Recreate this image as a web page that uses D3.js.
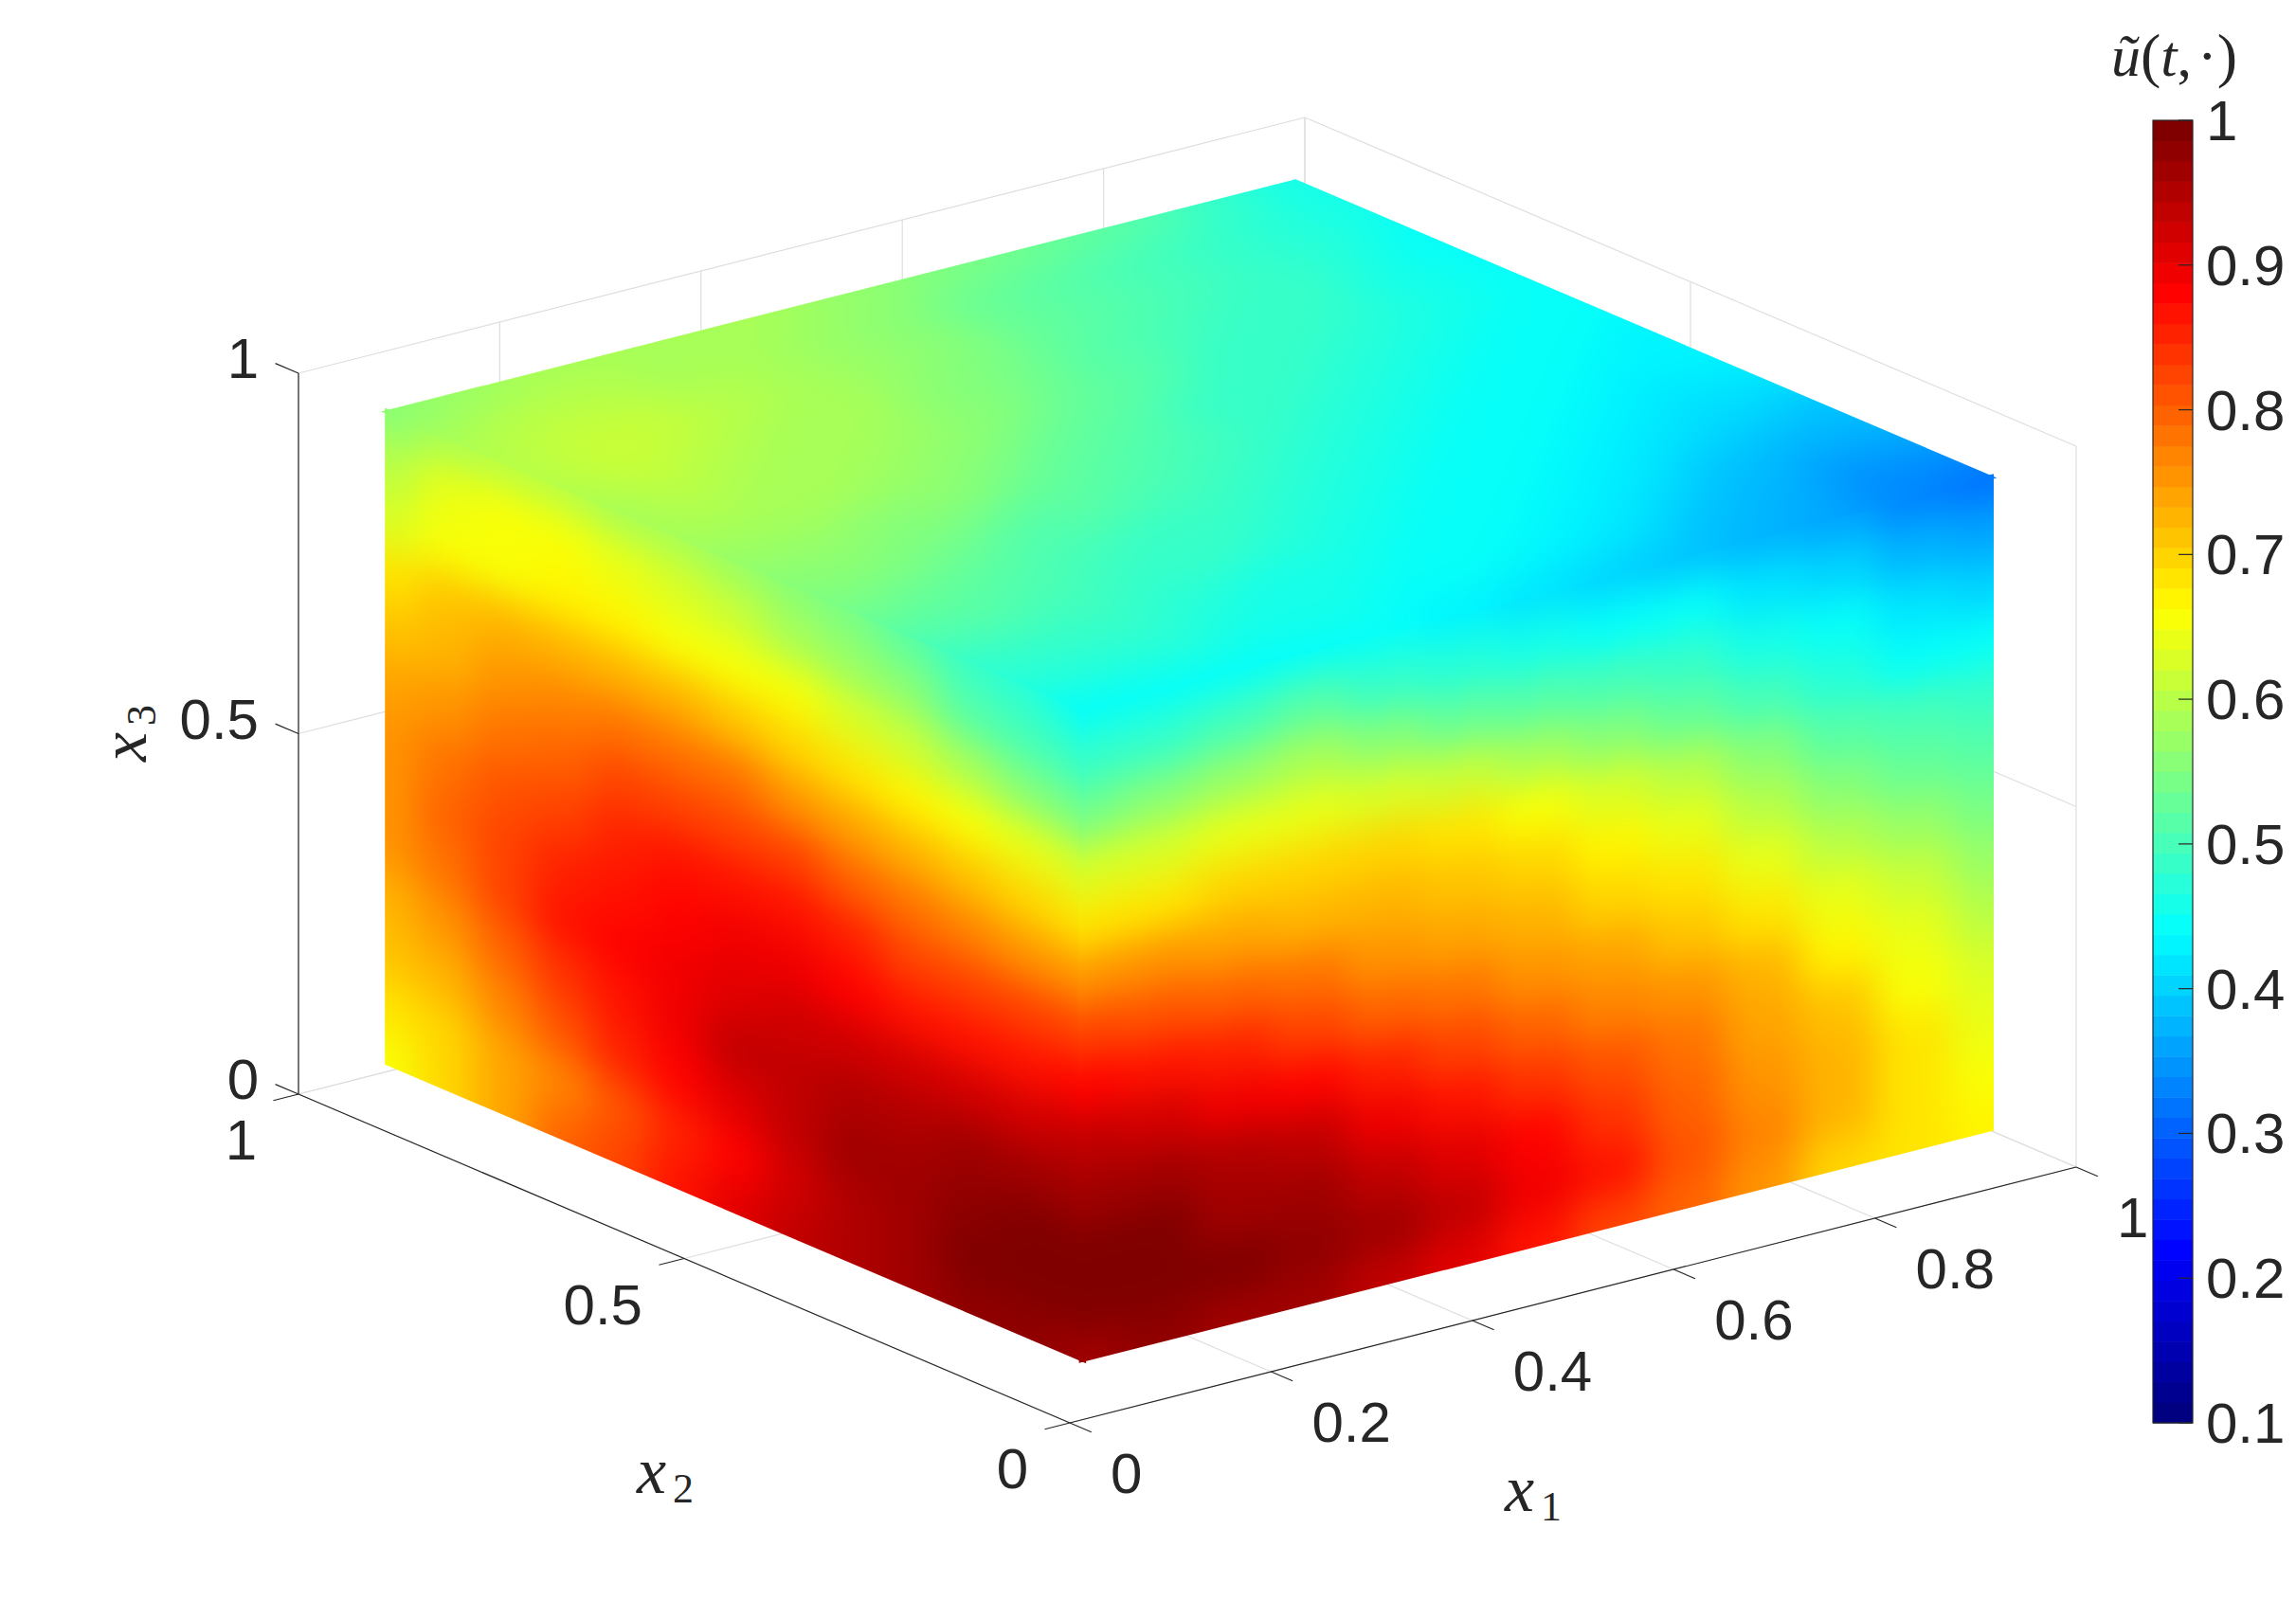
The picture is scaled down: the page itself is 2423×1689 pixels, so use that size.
<!DOCTYPE html>
<html>
<head>
<meta charset="utf-8">
<title>u(t,x)</title>
<script src="https://cdn.jsdelivr.net/npm/d3@7"></script>
<style>
body { margin: 0; background: #fff; }
text { fill: #262626; }
.tick { font-family: "Liberation Sans", Arial, sans-serif; font-size: 60px; }
.math { font-family: "Liberation Serif", serif; }
</style>
</head>
<body>
<div id="panel"></div>
<script>
// ticks
var x1Ticks = [0, 0.2, 0.4, 0.6, 0.8, 1];
var x2Ticks = [0, 0.5, 1];
var x3Ticks = [0, 0.5, 1];
var barTicks = [0.1, 0.2, 0.3, 0.4, 0.5, 0.6, 0.7, 0.8, 0.9, 1];

// values read by eye from the colours of the picture, on a 13 x 13 grid per face
// left face: x1 low, columns go along x2, first row is the top of the cube
var leftFace = [
	[.44,.47,.49,.52,.54,.56,.57,.58,.59,.60,.60,.59,.56],
	[.48,.50,.52,.55,.57,.59,.61,.63,.64,.65,.65,.64,.60],
	[.54,.56,.59,.61,.63,.65,.66,.66,.67,.67,.66,.65,.63],
	[.63,.64,.65,.67,.68,.70,.71,.72,.73,.73,.73,.71,.68],
	[.69,.70,.71,.72,.74,.76,.78,.78,.78,.77,.75,.73,.71],
	[.76,.76,.77,.78,.80,.82,.83,.83,.82,.80,.78,.76,.74],
	[.82,.82,.82,.83,.85,.87,.87,.86,.85,.83,.81,.78,.76],
	[.88,.87,.87,.87,.88,.89,.89,.88,.87,.85,.82,.79,.76],
	[.93,.92,.92,.92,.92,.92,.91,.90,.88,.86,.82,.78,.75],
	[.97,.97,.96,.95,.95,.94,.93,.90,.87,.84,.80,.76,.73],
	[1.0,.99,.98,.97,.96,.94,.91,.88,.85,.81,.77,.73,.71],
	[1.0,1.0,.99,.97,.95,.92,.88,.85,.81,.77,.74,.70,.68],
	[.97,.98,.98,.97,.95,.93,.91,.87,.83,.79,.74,.70,.66]
];
// right face: x2 low, columns go along x1, first row is the top of the cube
var rightFace = [
	[.44,.44,.45,.45,.44,.43,.41,.40,.385,.37,.36,.33,.32],
	[.48,.49,.50,.51,.49,.47,.46,.45,.44,.42,.40,.38,.36],
	[.54,.55,.57,.58,.55,.53,.51,.50,.48,.46,.44,.42,.40],
	[.63,.63,.64,.64,.63,.62,.59,.56,.53,.50,.47,.45,.44],
	[.69,.69,.70,.70,.70,.68,.66,.63,.60,.56,.52,.50,.48],
	[.76,.75,.74,.73,.72,.71,.70,.67,.64,.60,.56,.53,.51],
	[.82,.81,.79,.78,.76,.74,.72,.70,.68,.64,.60,.57,.54],
	[.88,.87,.85,.83,.80,.78,.76,.74,.71,.68,.64,.61,.57],
	[.93,.92,.90,.88,.85,.82,.80,.77,.75,.72,.67,.64,.60],
	[.97,.96,.95,.93,.90,.87,.84,.81,.78,.74,.71,.66,.63],
	[1.0,.99,.97,.96,.94,.91,.88,.84,.80,.76,.72,.68,.64],
	[1.0,1.0,.99,.98,.96,.93,.90,.86,.81,.77,.72,.69,.66],
	[.97,.98,.97,.96,.94,.91,.87,.83,.79,.75,.70,.68,.67]
];
// top face: x3 high, columns go along x1, first row is x2 low
var topFace = [
	[.44,.44,.45,.45,.44,.43,.41,.40,.385,.37,.36,.33,.32],
	[.47,.47,.47,.46,.46,.45,.44,.43,.41,.39,.37,.35,.34],
	[.49,.49,.48,.47,.46,.46,.45,.44,.43,.41,.39,.37,.37],
	[.52,.51,.50,.49,.48,.47,.46,.45,.44,.43,.41,.40,.39],
	[.54,.53,.52,.50,.49,.48,.47,.46,.45,.44,.43,.42,.41],
	[.56,.55,.54,.52,.51,.50,.48,.47,.46,.45,.44,.43,.43],
	[.57,.57,.56,.55,.53,.51,.50,.48,.47,.46,.45,.44,.43],
	[.58,.59,.58,.57,.55,.53,.51,.49,.48,.47,.46,.45,.44],
	[.59,.60,.59,.58,.57,.55,.53,.51,.49,.48,.47,.46,.44],
	[.60,.61,.60,.59,.58,.56,.54,.52,.50,.49,.48,.46,.45],
	[.60,.61,.61,.60,.58,.57,.55,.53,.51,.50,.48,.47,.45],
	[.59,.60,.60,.59,.58,.57,.55,.53,.52,.50,.49,.47,.46],
	[.56,.57,.58,.58,.58,.58,.57,.56,.54,.53,.51,.49,.46]
];

var width = 2423;
var height = 1689;
var svg = d3.select("#panel").append("svg")
	.attr("width", width)
	.attr("height", height)
	.style("display", "block");

// oblique view: each axis gets one scale for screen x and one for screen y
var x1X = d3.scaleLinear().domain([0, 1]).range([0, 1062]);
var x1Y = d3.scaleLinear().domain([0, 1]).range([0, -270]);
var x2X = d3.scaleLinear().domain([0, 1]).range([0, -814]);
var x2Y = d3.scaleLinear().domain([0, 1]).range([0, -347]);
var x3Y = d3.scaleLinear().domain([0, 1]).range([0, -761]);
function project(a, b, c) {
	return [1129 + x1X(a) + x2X(b), 1502 + x1Y(a) + x2Y(b) + x3Y(c)];
}
function polygon(points) {
	return points.map(function (d) { return d.join(","); }).join(" ");
}

// jet colormap, 64 levels
var jetLine = d3.scaleLinear()
	.domain([0, 0.125, 0.375, 0.625, 0.875, 1])
	.range(["#000080", "#0000ff", "#00ffff", "#ffff00", "#ff0000", "#800000"]);
var jet = d3.range(64).map(function (i) { return jetLine(i / 63); });
var color = d3.scaleQuantize().domain([0.1, 1]).range(jet);

// walls and floor grid
var grid = svg.append("g").attr("stroke", "#dedede").attr("stroke-width", 1.2).attr("fill", "none");
function gridLine(p, q) {
	grid.append("line").attr("x1", p[0]).attr("y1", p[1]).attr("x2", q[0]).attr("y2", q[1]);
}
x1Ticks.forEach(function (t) {
	gridLine(project(t, 0, 0), project(t, 1, 0));
	gridLine(project(t, 1, 0), project(t, 1, 1));
});
x2Ticks.forEach(function (t) {
	gridLine(project(0, t, 0), project(1, t, 0));
	gridLine(project(1, t, 0), project(1, t, 1));
});
x3Ticks.forEach(function (t) {
	gridLine(project(0, 1, t), project(1, 1, t));
	gridLine(project(1, 1, t), project(1, 0, t));
});

// axis lines and tick marks
var axes = svg.append("g").attr("stroke", "#262626").attr("stroke-width", 1.2).attr("fill", "none");
function axisLine(p, q) {
	axes.append("line").attr("x1", p[0]).attr("y1", p[1]).attr("x2", q[0]).attr("y2", q[1]);
}
axisLine(project(0, 0, 0), project(1, 0, 0));
axisLine(project(0, 0, 0), project(0, 1, 0));
axisLine(project(0, 1, 0), project(0, 1, 1));
x1Ticks.forEach(function (t) { axisLine(project(t, 0, 0), project(t, -0.028, 0)); });
x2Ticks.forEach(function (t) { axisLine(project(0, t, 0), project(-0.025, t, 0)); });
x3Ticks.forEach(function (t) { axisLine(project(0, 1, t), project(0, 1.03, t)); });

// tick labels
var labels = svg.append("g").attr("class", "tick");
x1Ticks.forEach(function (t) {
	var p = project(t, 0, 0);
	labels.append("text").attr("x", p[0] + 43).attr("y", p[1] + 74).text(t);
});
x2Ticks.forEach(function (t) {
	var p = project(0, t, 0);
	labels.append("text").attr("x", p[0] - 44).attr("y", p[1] + 69).attr("text-anchor", "end").text(t);
});
x3Ticks.forEach(function (t) {
	var p = project(0, 1, t);
	labels.append("text").attr("x", 273).attr("y", p[1] + 5).attr("text-anchor", "end").text(t);
});

// axis titles
function mathLabel(x, y, sub, rotate) {
	var g = svg.append("g").attr("class", "math")
		.attr("transform", "translate(" + x + "," + y + ") rotate(" + rotate + ")");
	g.append("text").attr("font-size", 70).attr("font-style", "italic").text("x");
	g.append("text").attr("x", 38).attr("y", 10).attr("font-size", 44).text(sub);
}
mathLabel(672, 1576, "2", 0);
mathLabel(1588, 1595, "1", 0);
mathLabel(154, 804, "3", -90);

// the cube: one cell per read value, softened, and cut to the face outline
var defs = svg.append("defs");
defs.append("filter").attr("id", "soft")
	.attr("filterUnits", "userSpaceOnUse")
	.attr("x", 0).attr("y", 0).attr("width", width).attr("height", height)
	.attr("color-interpolation-filters", "sRGB")
	.append("feGaussianBlur").attr("stdDeviation", 20);

var lo = 0.056, hi = 0.957, zLo = 0.043, zHi = 0.946;
var pad = 0.004;
var along = d3.scaleLinear().domain([0, 12]).range([lo, hi]);
var alongZ = d3.scaleLinear().domain([0, 12]).range([zHi, zLo]);

// cell edges around node i, the outer ones run well past the outline
function edges(scale, i) {
	var a = i === 0 ? scale(-4) : scale(i - 0.5);
	var b = i === 12 ? scale(16) : scale(i + 0.5);
	return [a, b];
}

function drawFace(id, rows, rowScale, place, rowLo, rowHi) {
	var corners = [
		place(lo - pad, rowLo - pad), place(hi + pad, rowLo - pad),
		place(hi + pad, rowHi + pad), place(lo - pad, rowHi + pad)
	];
	defs.append("clipPath").attr("id", "clip-" + id)
		.append("polygon").attr("points", polygon(corners));
	var cells = [];
	rows.forEach(function (row, r) {
		row.forEach(function (v, c) { cells.push({ r: r, c: c, v: v }); });
	});
	svg.append("g").attr("clip-path", "url(#clip-" + id + ")")
		.append("g").attr("filter", "url(#soft)")
		.selectAll("polygon").data(cells).enter().append("polygon")
		.attr("fill", function (d) { return color(d.v); })
		.attr("stroke", function (d) { return color(d.v); })
		.attr("stroke-width", 1)
		.attr("points", function (d) {
			var e = edges(along, d.c), f = edges(rowScale, d.r);
			return polygon([place(e[0], f[0]), place(e[1], f[0]), place(e[1], f[1]), place(e[0], f[1])]);
		});
}

drawFace("left", leftFace, alongZ, function (u, v) { return project(lo, u, v); }, zLo, zHi);
drawFace("right", rightFace, alongZ, function (u, v) { return project(u, lo, v); }, zLo, zHi);
drawFace("top", topFace, along, function (u, v) { return project(u, v, zHi); }, lo, hi);

// colorbar
var barY = d3.scaleLinear().domain([0.1, 1]).range([1502, 127]);
var bar = svg.append("g");
bar.selectAll("rect").data(jet).enter().append("rect")
	.attr("x", 2272)
	.attr("width", 42)
	.attr("y", function (d, i) { return barY(0.1 + 0.9 * (i + 1) / 64); })
	.attr("height", barY(0.1) - barY(0.1 + 0.9 / 64) + 0.5)
	.attr("fill", function (d) { return d; });
bar.append("rect").attr("x", 2272).attr("y", 127).attr("width", 42).attr("height", 1375)
	.attr("fill", "none").attr("stroke", "#262626").attr("stroke-width", 1.2);
bar.selectAll("line").data(barTicks).enter().append("line")
	.attr("x1", 2299).attr("x2", 2314)
	.attr("y1", barY).attr("y2", barY)
	.attr("stroke", "#262626").attr("stroke-width", 1.2);
bar.selectAll("text").data(barTicks).enter().append("text")
	.attr("class", "tick")
	.attr("x", 2328)
	.attr("y", function (d) { return barY(d) + 21; })
	.text(function (d) { return d; });

// colorbar title
var title = svg.append("text").attr("class", "math").attr("x", 2228).attr("y", 80).attr("font-size", 62);
title.append("tspan").attr("font-style", "italic").text("ũ");
title.append("tspan").attr("font-size", 64).text("(");
title.append("tspan").attr("font-style", "italic").text("t");
title.append("tspan").text(",");
title.append("tspan").attr("dx", 6).text("·");
title.append("tspan").attr("font-size", 64).text(")");
</script>
</body>
</html>
